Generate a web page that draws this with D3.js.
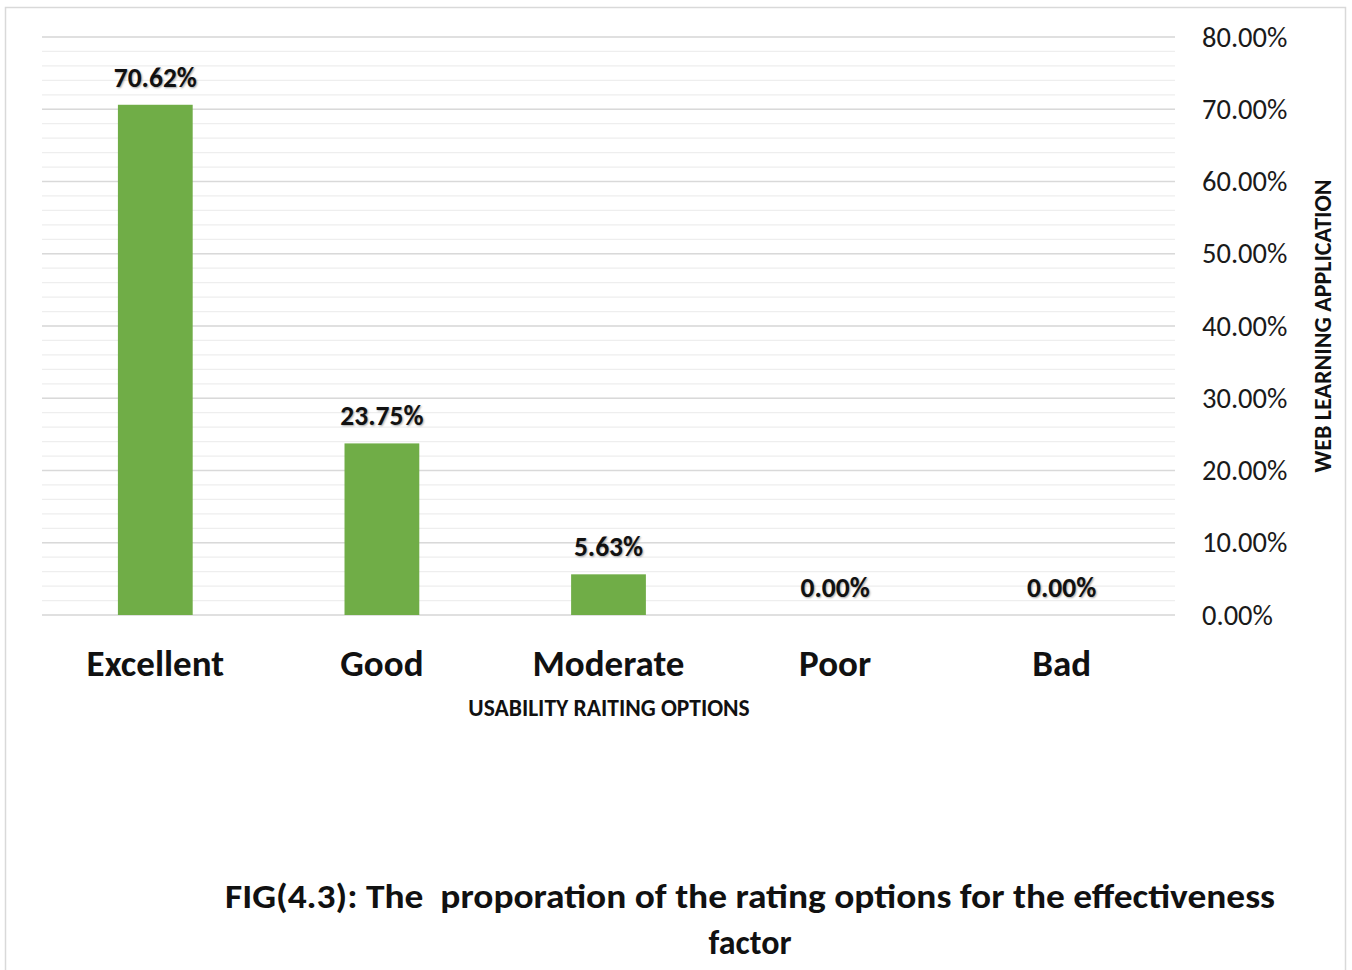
<!DOCTYPE html>
<html>
<head>
<meta charset="utf-8">
<script src="https://cdn.jsdelivr.net/npm/d3@7"></script>
<style>
  html, body { margin: 0; padding: 0; background: #fff; }
  svg { display: block; }
  text { font-family: Calibri, Carlito, Lato, "Open Sans", sans-serif; }
</style>
</head>
<body>
<svg id="chart" width="1352" height="970"></svg>
<script>
// Rating options and share of responses
const categories = ["Excellent", "Good", "Moderate", "Poor", "Bad"];
const values = [0.7062, 0.2375, 0.0563, 0.0, 0.0];
const majorTicks = [0, 0.1, 0.2, 0.3, 0.4, 0.5, 0.6, 0.7, 0.8];
const minorTicks = d3.range(0, 0.8001, 0.02);
const xAxisTitle = "USABILITY RAITING OPTIONS";
const yAxisTitle = "WEB LEARNING APPLICATION";
const titleLines = ["FIG(4.3): The  proporation of the rating options for the effectiveness", "factor"];

const svg = d3.select("#chart");

// outer frame
svg.append("rect")
  .attr("x", 5.5).attr("y", 7.5)
  .attr("width", 1340).attr("height", 975)
  .attr("fill", "#fff").attr("stroke", "#d9d9d9").attr("stroke-width", 1.5);

const plot = { left: 42, right: 1175, top: 37, bottom: 615 };

const x = d3.scaleBand()
  .domain(categories)
  .range([plot.left, plot.right])
  .paddingInner(0.67)
  .paddingOuter(0.335);

const y = d3.scaleLinear()
  .domain([0, 0.8])
  .range([plot.bottom, plot.top]);

// minor gridlines
svg.append("g")
  .selectAll("line")
  .data(minorTicks)
  .join("line")
  .attr("x1", plot.left).attr("x2", plot.right)
  .attr("y1", d => y(d)).attr("y2", d => y(d))
  .attr("stroke", "#eeeeee").attr("stroke-width", 1.2);

// major gridlines
svg.append("g")
  .selectAll("line")
  .data(majorTicks)
  .join("line")
  .attr("x1", plot.left).attr("x2", plot.right)
  .attr("y1", d => y(d)).attr("y2", d => y(d))
  .attr("stroke", "#d9d9d9").attr("stroke-width", 1.5);

// right-hand value axis
const yAxis = d3.axisRight(y)
  .tickValues(majorTicks)
  .tickFormat(d3.format(".2%"))
  .tickSize(0)
  .tickPadding(27);
const gy = svg.append("g")
  .attr("transform", `translate(${plot.right},0)`)
  .call(yAxis);
gy.select(".domain").remove();
gy.selectAll("text")
  .attr("font-size", 28.5)
  .attr("fill", "#1a1a1a")
  .style("font-family", "Calibri, Carlito, Lato, sans-serif");

// bars
svg.append("g")
  .selectAll("rect")
  .data(categories)
  .join("rect")
  .attr("x", d => x(d))
  .attr("width", x.bandwidth())
  .attr("y", (d, i) => y(values[i]))
  .attr("height", (d, i) => y(0) - y(values[i]))
  .attr("fill", "#70ad47");

// data labels
svg.append("g")
  .selectAll("text")
  .data(categories)
  .join("text")
  .attr("x", d => x(d) + x.bandwidth() / 2)
  .attr("y", (d, i) => y(values[i]) - 18)
  .attr("text-anchor", "middle")
  .attr("font-size", 27.5)
  .attr("font-weight", "bold")
  .attr("fill", "#111")
  .style("text-shadow", "1px 1px 2px rgba(0,0,0,0.35)")
  .text((d, i) => d3.format(".2%")(values[i]));

// category axis
const xAxis = d3.axisBottom(x).tickSize(0).tickPadding(35);
const gx = svg.append("g")
  .attr("transform", `translate(0,${plot.bottom})`)
  .call(xAxis);
gx.select(".domain").remove();
gx.selectAll("text")
  .attr("font-size", 37)
  .attr("font-weight", "bold")
  .attr("fill", "#111")
  .style("font-family", "Calibri, Carlito, Lato, sans-serif");

// axis titles
svg.append("text")
  .attr("x", 609)
  .attr("y", 716)
  .attr("text-anchor", "middle")
  .attr("font-size", 23.5)
  .attr("font-weight", "bold")
  .attr("fill", "#111")
  .text(xAxisTitle);

svg.append("text")
  .attr("transform", "translate(1331,326) rotate(-90)")
  .attr("text-anchor", "middle")
  .attr("font-size", 24)
  .attr("font-weight", "bold")
  .attr("fill", "#111")
  .text(yAxisTitle);

// figure caption
svg.append("g")
  .selectAll("text")
  .data(titleLines)
  .join("text")
  .attr("x", 750)
  .attr("y", (d, i) => 908 + i * 46)
  .attr("text-anchor", "middle")
  .attr("font-size", 34)
  .attr("font-weight", "bold")
  .attr("fill", "#111")
  .attr("textLength", (d, i) => i === 0 ? 1050 : null)
  .attr("lengthAdjust", "spacingAndGlyphs")
  .style("white-space", "pre")
  .text(d => d);
</script>
</body>
</html>
